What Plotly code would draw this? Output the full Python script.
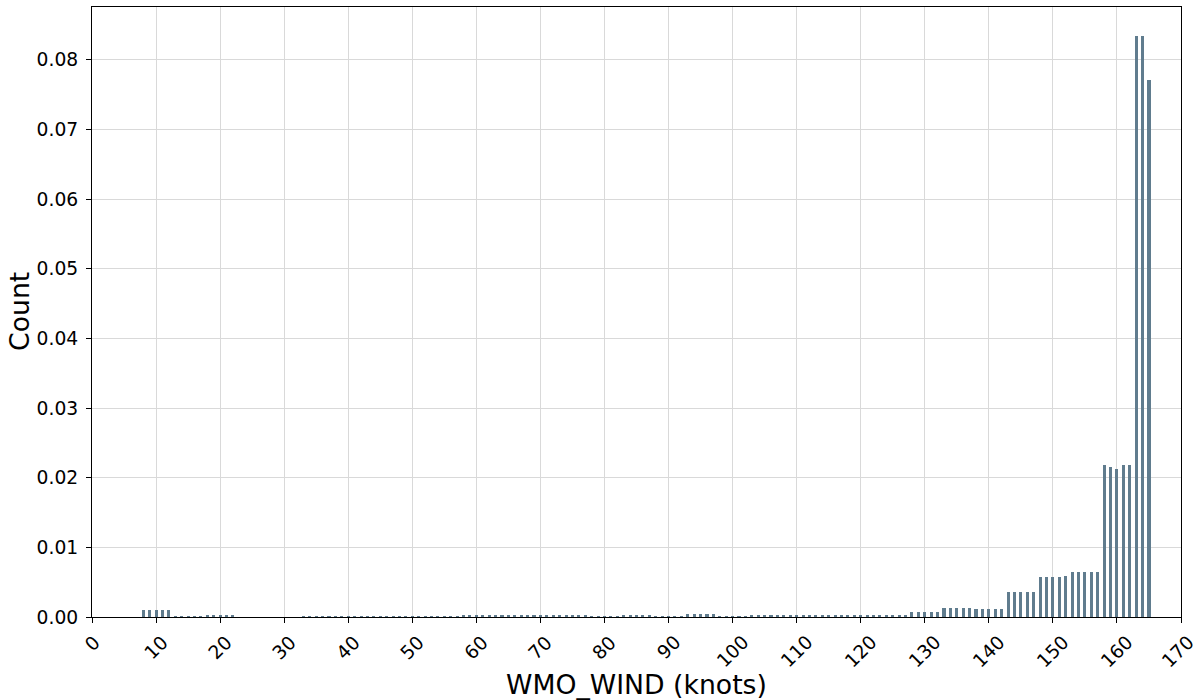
import plotly.graph_objects as go

# Wind speed bins (knots) and normalised counts per bin
wind_knots = list(range(8, 166))
counts = [
    # 8-12
    0.00098, 0.00097, 0.00098, 0.00098, 0.00096,
    # 13-17
    0.00008, 0.00008, 0.00008, 0.00008, 0.00008,
    # 18-22
    0.00018, 0.00018, 0.00020, 0.00018, 0.00018,
    # 23-27
    0.0, 0.0, 0.0, 0.0, 0.0,
    # 28-32
    0.0, 0.0, 0.0, 0.0, 0.0,
    # 33-37
    0.00008, 0.00008, 0.00008, 0.00008, 0.00008,
    # 38-42
    0.00010, 0.00010, 0.00010, 0.00010, 0.00010,
    # 43-47
    0.00010, 0.00010, 0.00010, 0.00010, 0.00010,
    # 48-52
    0.00010, 0.00010, 0.00010, 0.00010, 0.00010,
    # 53-57
    0.00010, 0.00010, 0.00010, 0.00010, 0.00010,
    # 58-62
    0.00020, 0.00020, 0.00020, 0.00020, 0.00020,
    # 63-67
    0.00020, 0.00020, 0.00020, 0.00020, 0.00020,
    # 68-72
    0.00020, 0.00020, 0.00020, 0.00020, 0.00020,
    # 73-77
    0.00020, 0.00020, 0.00020, 0.00020, 0.00020,
    # 78-82
    0.00010, 0.00010, 0.00010, 0.00010, 0.00010,
    # 83-87
    0.00018, 0.00018, 0.00018, 0.00018, 0.00018,
    # 88-92
    0.00010, 0.00010, 0.00010, 0.00010, 0.00010,
    # 93-97
    0.00040, 0.00040, 0.00040, 0.00040, 0.00040,
    # 98-102
    0.00012, 0.00012, 0.00012, 0.00012, 0.00012,
    # 103-107
    0.00035, 0.00035, 0.00035, 0.00035, 0.00035,
    # 108-112
    0.00025, 0.00025, 0.00025, 0.00025, 0.00025,
    # 113-117
    0.00022, 0.00022, 0.00022, 0.00022, 0.00022,
    # 118-122
    0.00022, 0.00022, 0.00022, 0.00022, 0.00022,
    # 123-127
    0.00022, 0.00022, 0.00022, 0.00022, 0.00022,
    # 128-132
    0.00068, 0.00068, 0.00068, 0.00068, 0.00068,
    # 133-137
    0.00135, 0.00135, 0.00135, 0.00135, 0.00135,
    # 138-142
    0.00112, 0.00112, 0.00112, 0.00112, 0.00112,
    # 143-147
    0.00360, 0.00360, 0.00360, 0.00360, 0.00360,
    # 148-152
    0.00580, 0.00580, 0.00570, 0.00580, 0.00590,
    # 153-157
    0.00648, 0.00648, 0.00648, 0.00648, 0.00648,
    # 158-162
    0.02180, 0.02160, 0.02130, 0.02180, 0.02180,
    # 163-165
    0.08350, 0.08350, 0.07710,
]

x_ticks = list(range(0, 171, 10))
y_ticks = [0.00, 0.01, 0.02, 0.03, 0.04, 0.05, 0.06, 0.07, 0.08]

FONT = "DejaVu Sans"
TICK_SIZE = 18.7
TITLE_SIZE = 26.7
BAR_COLOR = "#607c8e"
GRID_COLOR = "#d9d9d9"

fig = go.Figure()
fig.add_trace(go.Bar(
    x=wind_knots,
    y=counts,
    width=0.48,
    marker=dict(color=BAR_COLOR, line=dict(width=0)),
    hoverinfo="x+y",
))

# Rotated x tick labels, hung from the top and centred under each tick
annotations = []
for t in x_ticks:
    annotations.append(dict(
        x=t, y=0, xref="x", yref="paper",
        text=str(t), showarrow=False, textangle=-45,
        xanchor="center", yanchor="top", yshift=-13,
        xshift=-3 if t == x_ticks[-1] else 0,
        borderpad=0,
        font=dict(family=FONT, size=TICK_SIZE, color="#000000"),
    ))

# Axis titles
annotations.append(dict(
    x=0.5, y=0, xref="paper", yref="paper",
    text="WMO_WIND (knots)", showarrow=False,
    xanchor="center", yanchor="middle", yshift=-67,
    font=dict(family=FONT, size=TITLE_SIZE, color="#000000"),
))
annotations.append(dict(
    x=0, y=0.5, xref="paper", yref="paper",
    text="Count", showarrow=False, textangle=-90,
    xanchor="center", yanchor="middle", xshift=-73,
    font=dict(family=FONT, size=TITLE_SIZE, color="#000000"),
))

fig.update_layout(
    width=1200,
    height=700,
    margin=dict(l=92, r=19, t=7, b=83, pad=0),
    plot_bgcolor="white",
    paper_bgcolor="white",
    showlegend=False,
    bargap=0,
    font=dict(family=FONT, size=TICK_SIZE, color="#000000"),
    annotations=annotations,
    xaxis=dict(
        range=[0, 170],
        tickmode="array",
        tickvals=x_ticks,
        showticklabels=False,
        ticks="outside",
        ticklen=5,
        tickwidth=1,
        tickcolor="#000000",
        showgrid=True,
        gridcolor=GRID_COLOR,
        gridwidth=1,
        showline=True,
        linecolor="#000000",
        linewidth=1.2,
        mirror=True,
        zeroline=False,
    ),
    yaxis=dict(
        range=[0, 0.0876],
        tickmode="array",
        tickvals=y_ticks,
        tickformat=".2f",
        ticks="outside",
        ticklen=5,
        tickwidth=1,
        tickcolor="#000000",
        ticklabelstandoff=4,
        tickfont=dict(family=FONT, size=TICK_SIZE, color="#000000"),
        showgrid=True,
        gridcolor=GRID_COLOR,
        gridwidth=1,
        showline=True,
        linecolor="#000000",
        linewidth=1.2,
        mirror=True,
        zeroline=False,
    ),
)

fig.write_html("out.html")
